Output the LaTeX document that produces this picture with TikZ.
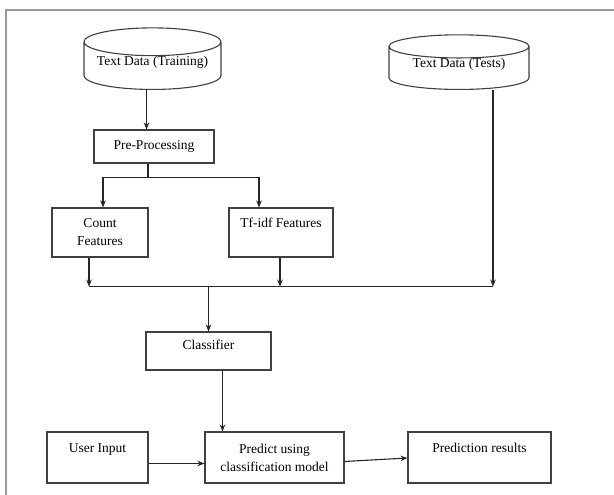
\documentclass[tikz,border=0pt]{standalone}
\usepackage{fontspec}
\setmainfont{Liberation Serif}
\usetikzlibrary{arrows.meta,
  calc,
  positioning,
  shapes.geometric
}

\begin{document}
\begin{tikzpicture}[x=1pt,y=-1pt,
  box/.style={draw=black!75,line width=1.1,rectangle,inner sep=0,align=center,
    font=\fontsize{13.5}{18}\selectfont},
  db/.style={draw=black!75,line width=1.1,cylinder,shape border rotate=90,aspect=0.25,
    inner sep=0,font=\fontsize{13.5}{18}\selectfont},
  flow/.style={-{Stealth[length=7,width=5.5]},line width=1.1,color=black!85},
  link/.style={line width=1.1,color=black!85}]

  \useasboundingbox (0,0) rectangle (614,495);
  \draw[line width=2,color=black!40] (620,10) -- (6,10) -- (6,498);

  \node[db,minimum width=137,minimum height=53,text depth=10,anchor=south] (train)
  at (152.5,90) {Text Data (Training)};
  \node[db,minimum width=140,minimum height=53,text depth=10,anchor=south] (test)
  at (459,90) {Text Data (Tests)};

  \node[box,minimum width=120,minimum height=33] (prep) at (154,146.5) {Pre-Processing};
  \node[box,minimum width=96,minimum height=49] (count) at (100,232.5) {Count\\Features};
  \node[box,minimum width=104,minimum height=49,text height=19,text depth=30]
  (tfidf) at (281,232.5) {Tf-idf Features};
  \node[box,minimum width=125,minimum height=38,text height=17,text depth=21]
  (classifier) at (208.5,351) {Classifier};
  \node[box,minimum width=101,minimum height=51,text height=20,text depth=31]
  (user) at (97.5,457.5) {User Input};
  \node[box,minimum width=139,minimum height=51] (predict) at (274.5,457.5)
  {Predict using\\classification model};
  \node[box,minimum width=143,minimum height=51,text height=20,text depth=31]
  (results) at (479.5,457.5) {Prediction results};

  \draw[flow] ([xshift=-6]train.south) -- ([xshift=-6]train.south |- prep.north);

  \coordinate (split) at ($(prep.south) + (-6,14)$);
  \draw[link] ([xshift=-6]prep.south) -- (split);
  \draw[flow] (split) -| ([xshift=3]count.north);
  \draw[flow] (split) -| ([xshift=-22]tfidf.north);

  \coordinate (merge) at ($(count.south) + (-11,29)$);
  \draw[flow] ([xshift=-11]count.south) -- (merge);
  \draw[flow] ([xshift=-1]tfidf.south) -- ([xshift=-1]tfidf.south |- merge);
  \draw[flow] ([xshift=34]test.south) -- ([xshift=34]test.south |- merge);
  \draw[link] (merge) -- ([xshift=34]test.south |- merge);
  \draw[flow] (classifier.north |- merge) -- (classifier.north);

  \draw[flow] ([xshift=14]classifier.south) -- ([xshift=14]classifier.south |- predict.north);
  \draw[flow] ([yshift=-6]user.east) -- ([yshift=-6]user.east -| predict.west);
  \draw[flow] ([yshift=-4]predict.east) -- ([yshift=-0.5]results.west);
\end{tikzpicture}
\end{document}
